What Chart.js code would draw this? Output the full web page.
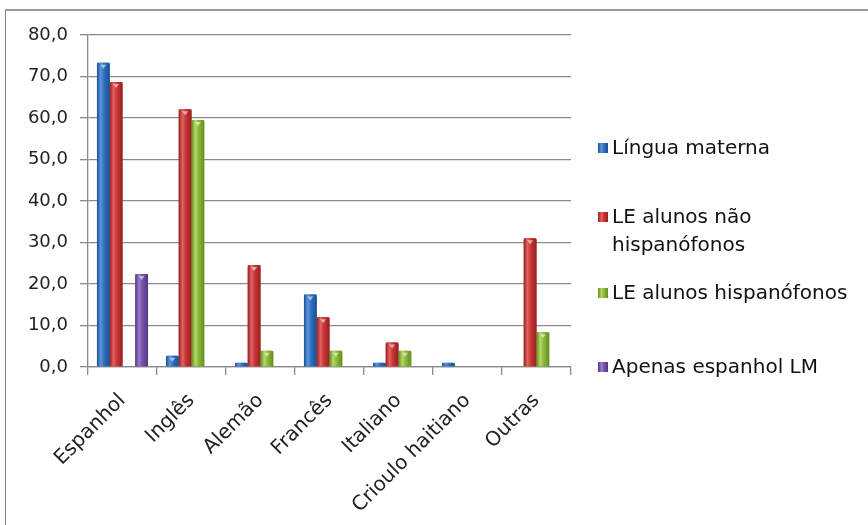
<!DOCTYPE html>
<html>
<head>
<meta charset="utf-8">
<script src="https://cdn.jsdelivr.net/npm/chart.js@4/dist/chart.umd.min.js"></script>
<style>
  html, body { margin: 0; padding: 0; background: #fff; overflow: hidden; }
  body { width: 868px; height: 525px; position: relative; }
  #frame {
    position: absolute; left: 5px; top: 9px; width: 900px; height: 600px;
    border-left: 1px solid #858585; border-top: 2px solid #9a9a9a;
  }
  #wrap { position: absolute; left: 0; top: 0; width: 868px; height: 525px; }
  #legend { position: absolute; left: 598px; top: 0; font-family: 'DejaVu Sans', sans-serif; font-size: 20px; color: #111; }
  .item { position: absolute; left: 0; display: flex; align-items: flex-start; white-space: nowrap; }
  .item .box { width: 10px; height: 10px; margin-top: 6px; margin-right: 4px; flex: none; }
  .item .txt { white-space: normal; width: 258px; line-height: 28px; margin-top: -4px; }
</style>
</head>
<body>
<div id="frame"></div>
<div id="wrap"><canvas id="langs" width="868" height="525"></canvas></div>
<div id="legend"></div>
<script>
const categories = ['Espanhol', 'Inglês', 'Alemão', 'Francês', 'Italiano', 'Crioulo haitiano', 'Outras'];

const linguaMaterna     = [73.3, 2.7, 1.0, 17.5, 1.0, 1.0, 0];
const leNaoHispanofonos = [68.7, 62.1, 24.6, 12.0, 5.9, 0, 31.0];
const leHispanofonos    = [0, 59.5, 3.9, 3.9, 3.9, 0, 8.4];
const apenasEspanholLM  = [22.4, 0, 0, 0, 0, 0, 0];

const seriesNames = ['Língua materna', 'LE alunos não hispanófonos', 'LE alunos hispanófonos', 'Apenas espanhol LM'];
const seriesData = [linguaMaterna, leNaoHispanofonos, leHispanofonos, apenasEspanholLM];

// base / dark edge / light highlight for each series
const shades = [
  { base: '#2e6fbf', dark: '#1c4f92', light: '#5b96dc' },
  { base: '#c93535', dark: '#962020', light: '#e36161' },
  { base: '#8db93d', dark: '#648c20', light: '#b3d866' },
  { base: '#7654aa', dark: '#533682', light: '#9a7ccb' }
];
const legendTops = [137, 206, 282, 356];

Chart.defaults.font.family = "'DejaVu Sans', sans-serif";
Chart.defaults.color = '#222';

// cylinder-like shading on top of each bar
const barShading = {
  id: 'barShading',
  afterDatasetsDraw(chart) {
    const ctx = chart.ctx;
    chart.data.datasets.forEach((ds, di) => {
      const meta = chart.getDatasetMeta(di);
      const c = shades[di];
      meta.data.forEach(bar => {
        const top = Math.min(bar.y, bar.base);
        const h = Math.abs(bar.base - bar.y);
        if (h < 0.5) return;
        const left = bar.x - bar.width / 2;
        const w = bar.width;
        const g = ctx.createLinearGradient(left, 0, left + w, 0);
        g.addColorStop(0, c.dark);
        g.addColorStop(0.3, c.light);
        g.addColorStop(0.55, c.base);
        g.addColorStop(1, c.dark);
        ctx.save();
        ctx.fillStyle = g;
        ctx.beginPath();
        ctx.moveTo(left, top + h);
        ctx.lineTo(left, top + 2);
        ctx.quadraticCurveTo(left, top, left + 2, top);
        ctx.lineTo(left + w - 2, top);
        ctx.quadraticCurveTo(left + w, top, left + w, top + 2);
        ctx.lineTo(left + w, top + h);
        ctx.closePath();
        ctx.fill();
        if (h > 4) {
          ctx.fillStyle = 'rgba(255,255,255,0.55)';
          ctx.beginPath();
          ctx.moveTo(bar.x - 3, top + 2);
          ctx.lineTo(bar.x + 3, top + 2);
          ctx.lineTo(bar.x, top + 6);
          ctx.closePath();
          ctx.fill();
        }
        ctx.restore();
      });
    });
  }
};

new Chart('langs', {
  type: 'bar',
  data: {
    labels: categories,
    datasets: seriesData.map((vals, i) => ({
      label: seriesNames[i],
      data: vals,
      backgroundColor: shades[i].base,
      borderWidth: 0,
      barPercentage: 1.0,
      categoryPercentage: 0.74
    }))
  },
  options: {
    responsive: false,
    animation: false,
    events: [],
    layout: { padding: { left: 20, right: 297, top: 35, bottom: 8 } },
    plugins: { legend: { display: false }, tooltip: { enabled: false } },
    scales: {
      x: {
        grid: { drawOnChartArea: false, drawTicks: true, tickLength: 8, color: '#8a8a8a', lineWidth: 1.3 },
        border: { display: true, color: '#8a8a8a', width: 1.3 },
        ticks: { font: { size: 20 }, color: '#222', minRotation: 45, maxRotation: 45, padding: 14 },
        afterFit: (axis) => { axis.height = 150; }
      },
      y: {
        min: 0,
        max: 80,
        grid: { color: '#8a8a8a', lineWidth: 1.3, tickLength: 8 },
        border: { display: true, color: '#8a8a8a', width: 1.3 },
        ticks: {
          stepSize: 10,
          font: { size: 18 },
          color: '#222',
          padding: 12,
          callback: (v) => v.toFixed(1).replace('.', ',')
        },
        afterFit: (axis) => { axis.width = 68; }
      }
    }
  },
  plugins: [barShading]
});

// legend on the right
const legend = document.getElementById('legend');
seriesNames.forEach((name, i) => {
  const item = document.createElement('div');
  item.className = 'item';
  item.style.top = legendTops[i] + 'px';
  const box = document.createElement('div');
  box.className = 'box';
  box.style.background = 'linear-gradient(to right, ' + shades[i].dark + ', ' + shades[i].light + ' 35%, ' + shades[i].base + ' 60%, ' + shades[i].dark + ')';
  const txt = document.createElement('div');
  txt.className = 'txt';
  txt.textContent = name;
  item.appendChild(box);
  item.appendChild(txt);
  legend.appendChild(item);
});
</script>
</body>
</html>
